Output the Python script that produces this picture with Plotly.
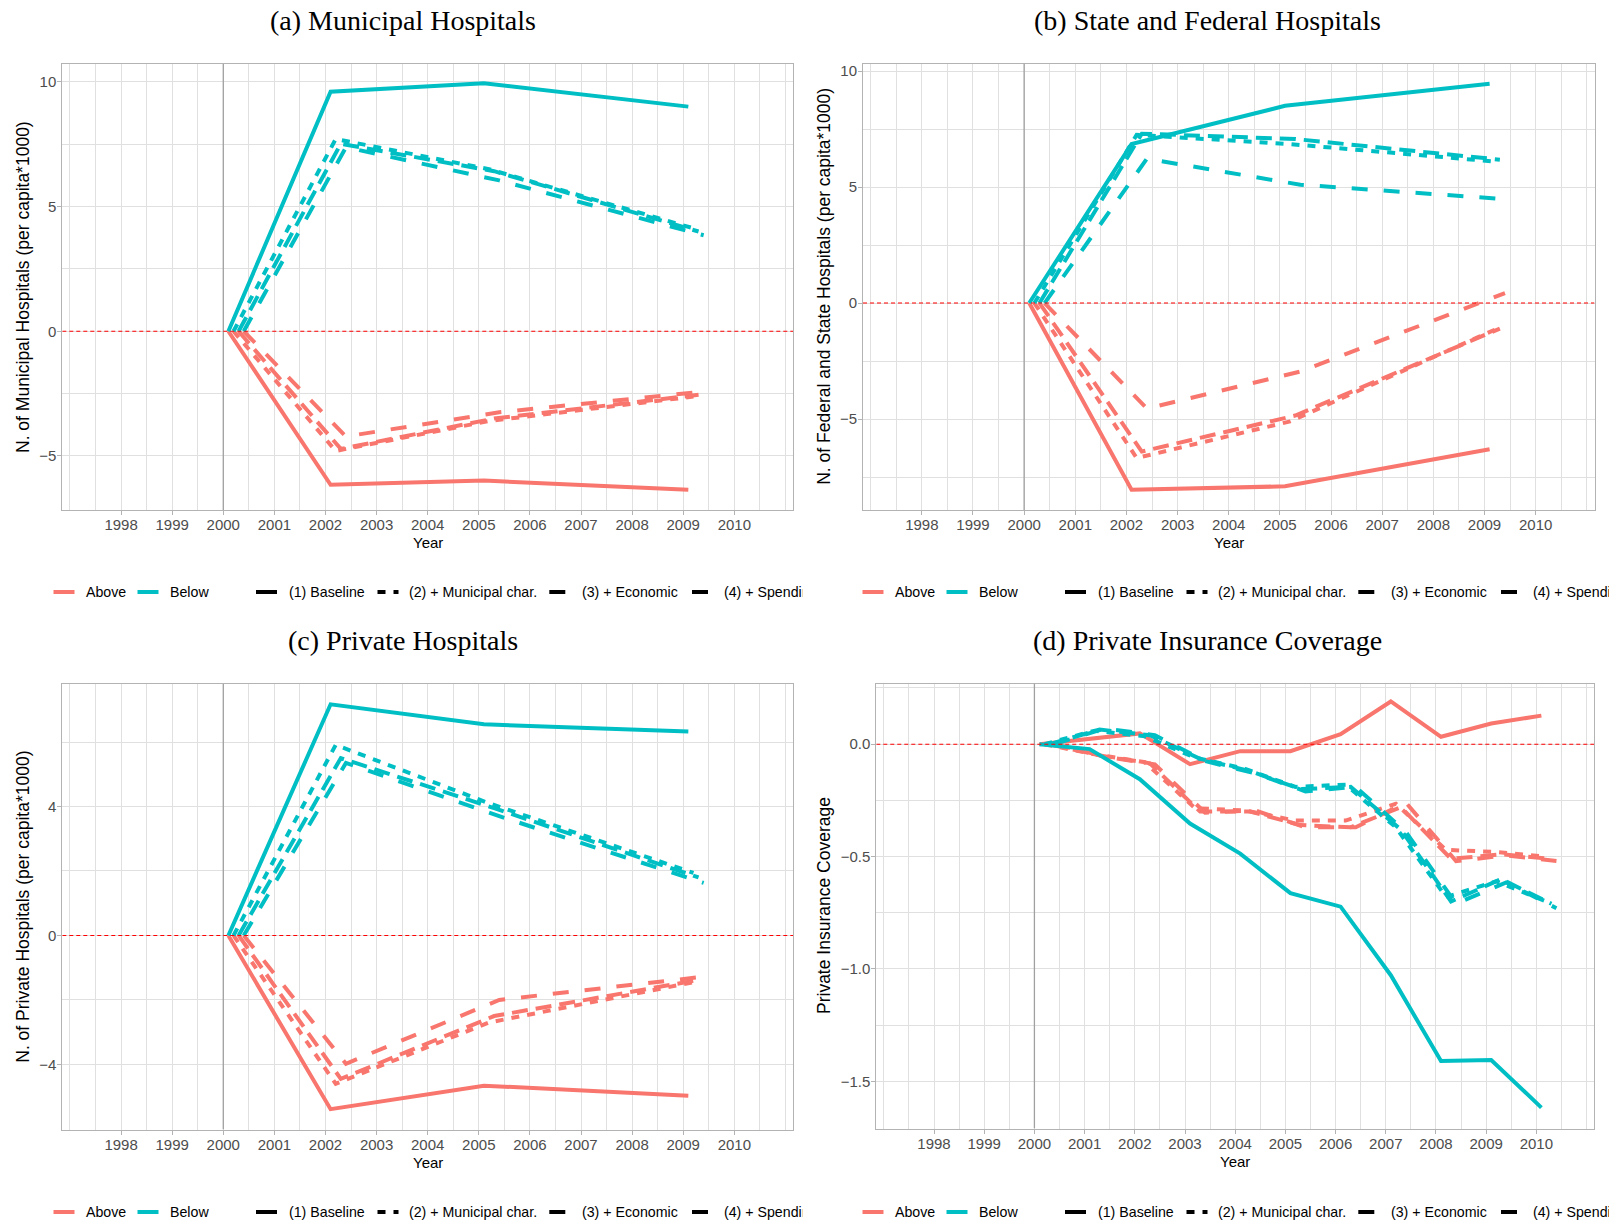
import plotly.graph_objects as go

# ---------------- data ----------------
YEARS_ABC = [2000, 2002, 2005, 2009]
YEARS_D = [2000, 2001, 2002, 2003, 2004, 2005, 2006, 2007, 2008, 2009, 2010]
X_TICKS = [1998, 1999, 2000, 2001, 2002, 2003, 2004, 2005, 2006, 2007, 2008, 2009, 2010]
GROUPS = ["Above", "Below"]
MODELS = ["(1) Baseline", "(2) + Municipal char.", "(3) + Economic", "(4) + Spending"]

TITLES = ["(a) Municipal Hospitals", "(b) State and Federal Hospitals",
          "(c) Private Hospitals", "(d) Private Insurance Coverage"]
Y_TITLES = ["N. of Municipal Hospitals (per capita*1000)",
            "N. of Federal and State Hospitals (per capita*1000)",
            "N. of Private Hospitals (per capita*1000)",
            "Private Insurance Coverage"]
Y_TICKS_A = [-5, 0, 5, 10]
Y_TICKS_B = [-5, 0, 5, 10]
Y_TICKS_C = [-4, 0, 4]
Y_TICKS_D = [-1.5, -1.0, -0.5, 0.0]

# (a) Municipal hospitals
mun_above_1 = [0, -6.16, -5.99, -6.36]
mun_above_2 = [0, -4.80, -3.60, -2.62]
mun_above_3 = [0, -4.72, -3.50, -2.55]
mun_above_4 = [0, -4.22, -3.25, -2.42]
mun_below_1 = [0, 9.61, 9.95, 9.01]
mun_below_2 = [0, 7.71, 6.50, 4.13]
mun_below_3 = [0, 7.52, 6.42, 4.00]
mun_below_4 = [0, 7.38, 6.05, 3.85]

# (b) State and federal hospitals
sf_above_1 = [0, -8.05, -7.90, -6.30]
sf_above_2 = [0, -6.68, -5.10, -1.15]
sf_above_3 = [0, -6.40, -4.85, -1.10]
sf_above_4 = [0, -4.55, -2.95, 0.43]
sf_below_1 = [0, 6.85, 8.50, 9.45]
sf_below_2 = [0, 7.25, 6.85, 6.10]
sf_below_3 = [0, 7.30, 7.07, 6.18]
sf_below_4 = [0, 6.22, 5.10, 4.48]

# (c) Private hospitals
pr_above_1 = [0, -5.39, -4.66, -4.97]
pr_above_2 = [0, -4.60, -2.70, -1.45]
pr_above_3 = [0, -4.45, -2.50, -1.38]
pr_above_4 = [0, -3.98, -2.00, -1.28]
pr_below_1 = [0, 7.17, 6.55, 6.33]
pr_below_2 = [0, 5.91, 4.10, 1.94]
pr_below_3 = [0, 5.50, 3.95, 1.80]
pr_below_4 = [0, 5.35, 3.70, 1.63]

# (d) Private insurance coverage
ins_above_1 = [0, 0.024, 0.048, -0.089, -0.031, -0.031, 0.045, 0.190, 0.033, 0.092, 0.127]
ins_above_2 = [0, -0.045, -0.080, -0.285, -0.295, -0.340, -0.340, -0.265, -0.470, -0.480, -0.500]
ins_above_3 = [0, -0.050, -0.085, -0.300, -0.300, -0.360, -0.370, -0.280, -0.510, -0.490, -0.510]
ins_above_4 = [0, -0.055, -0.090, -0.305, -0.295, -0.370, -0.370, -0.260, -0.520, -0.495, -0.520]
ins_below_1 = [0, -0.022, -0.156, -0.353, -0.487, -0.663, -0.723, -1.028, -1.410, -1.405, -1.617]
ins_below_2 = [0, 0.060, 0.035, -0.060, -0.110, -0.190, -0.180, -0.370, -0.680, -0.610, -0.700]
ins_below_3 = [0, 0.065, 0.040, -0.065, -0.120, -0.200, -0.190, -0.380, -0.700, -0.600, -0.710]
ins_below_4 = [0, 0.070, 0.040, -0.075, -0.130, -0.210, -0.190, -0.390, -0.710, -0.615, -0.730]

# ---------------- style ----------------
W, H = 1609, 1222
COLORS = {"Above": "#F8766D", "Below": "#00BFC4"}
DASHES = ["solid", "8px,8px", "16px,8px", "16px,16px"]
DODGE = [0.1, 0.2, 0.3, 0.4]
LW = 4
SANS = "Liberation Sans, Arial, Helvetica, sans-serif"
SERIF = "Liberation Serif, Times New Roman, serif"
GRID = "#E0E0E0"
BORDER = "#B3B3B3"

panels = [
    dict(years=YEARS_ABC,
         series={"Above": [mun_above_1, mun_above_2, mun_above_3, mun_above_4],
                 "Below": [mun_below_1, mun_below_2, mun_below_3, mun_below_4]},
         yticks=Y_TICKS_A, yminor=2.5, yrange=[-7.17, 10.72], yfmt="",
         xdom=[62.3, 793.1], ydom=[64.0, 510.0], ytitle_x=23, xrange=[1996.85, 2011.15]),
    dict(years=YEARS_ABC,
         series={"Above": [sf_above_1, sf_above_2, sf_above_3, sf_above_4],
                 "Below": [sf_below_1, sf_below_2, sf_below_3, sf_below_4]},
         yticks=Y_TICKS_B, yminor=2.5, yrange=[-8.92, 10.32], yfmt="",
         xdom=[863.0, 1594.5], ydom=[63.6, 510.0], ytitle_x=824, xrange=[1996.85, 2011.15]),
    dict(years=YEARS_ABC,
         series={"Above": [pr_above_1, pr_above_2, pr_above_3, pr_above_4],
                 "Below": [pr_below_1, pr_below_2, pr_below_3, pr_below_4]},
         yticks=Y_TICKS_C, yminor=2, yrange=[-6.02, 7.8], yfmt="",
         xdom=[62.3, 793.1], ydom=[684.0, 1129.5], ytitle_x=23, xrange=[1996.85, 2011.15]),
    dict(years=YEARS_D,
         series={"Above": [ins_above_1, ins_above_2, ins_above_3, ins_above_4],
                 "Below": [ins_below_1, ins_below_2, ins_below_3, ins_below_4]},
         yticks=Y_TICKS_D, yminor=0.25, yrange=[-1.71, 0.27], yfmt=".1f",
         xdom=[876.3, 1594.1], ydom=[683.5, 1128.5], ytitle_x=824, xrange=[1996.85, 2011.15]),
]


def fx(px):
    return px / W


def fy(py):
    return 1 - py / H


fig = go.Figure()
shapes = []
annotations = []

for i, p in enumerate(panels):
    sfx = "" if i == 0 else str(i + 1)
    xa, ya = "x" + sfx, "y" + sfx
    for g in GROUPS:
        for m in range(4):
            vals = p["series"][g][m]
            fig.add_trace(go.Scatter(
                x=[yr + DODGE[m] for yr in p["years"]], y=vals, mode="lines",
                line=dict(color=COLORS[g], width=LW, dash=DASHES[m]),
                name=f"{g} {MODELS[m]}", showlegend=False, hoverinfo="x+y+name",
                xaxis=xa, yaxis=ya))

    axis_common = dict(showline=True, mirror=True, linecolor=BORDER, linewidth=1,
                       ticks="outside", ticklen=4, tickwidth=1, tickcolor=BORDER,
                       tickfont=dict(family=SANS, size=15, color="#4D4D4D"),
                       showgrid=True, gridcolor=GRID, gridwidth=1, zeroline=False)
    fig.layout["xaxis" + sfx] = dict(
        axis_common, domain=[fx(p["xdom"][0]), fx(p["xdom"][1])], range=p["xrange"],
        anchor=ya, tickmode="array", tickvals=X_TICKS, ticktext=[str(t) for t in X_TICKS],
        ticklabelstandoff=-3,
        minor=dict(tickmode="linear", tick0=1997, dtick=0.5, showgrid=True,
                   gridcolor=GRID, gridwidth=0.6, ticks=""))
    fig.layout["yaxis" + sfx] = dict(
        axis_common, domain=[fy(p["ydom"][1]), fy(p["ydom"][0])], range=p["yrange"],
        anchor=xa, tickmode="array", tickvals=p["yticks"],
        ticklabelstandoff=-2,
        ticktext=[(format(t, p["yfmt"]) if p["yfmt"] else str(t)).replace("-", "\u2212") for t in p["yticks"]],
        minor=dict(tickmode="linear", tick0=0, dtick=p["yminor"], showgrid=True,
                   gridcolor=GRID, gridwidth=0.6, ticks=""))

    # reference lines
    x_lo, x_hi = p["xrange"]
    y_lo, y_hi = p["yrange"]
    shapes.append(dict(type="line", xref=xa, yref=ya, x0=2000, x1=2000, y0=y_lo, y1=y_hi,
                       line=dict(color="#A0A0A0", width=1.3), layer="above"))
    shapes.append(dict(type="line", xref=xa, yref=ya, x0=x_lo, x1=x_hi, y0=0, y1=0,
                       line=dict(color="#FF0000", width=1.1, dash="4px,3px"), layer="above"))

    # titles
    col_center = 403 if i % 2 == 0 else 1207
    title_y = 20 if i < 2 else 640
    annotations.append(dict(text=TITLES[i], x=fx(col_center), y=fy(title_y), xref="paper", yref="paper",
                            xanchor="center", yanchor="middle", showarrow=False,
                            font=dict(family=SERIF, size=28, color="#000000")))
    # y title
    ymid = (p["ydom"][0] + p["ydom"][1]) / 2
    annotations.append(dict(text=Y_TITLES[i], x=fx(p["ytitle_x"]), y=fy(ymid), xref="paper", yref="paper",
                            xanchor="center", yanchor="middle", textangle=-90, showarrow=False,
                            font=dict(family=SANS, size=17.5, color="#000000")))
    # x title
    xmid = (p["xdom"][0] + p["xdom"][1]) / 2
    annotations.append(dict(text="Year", x=fx(xmid), y=fy(p["ydom"][1] + 32.5), xref="paper", yref="paper",
                            xanchor="center", yanchor="middle", showarrow=False,
                            font=dict(family=SANS, size=15, color="#000000")))

    # legend (drawn manually, ggplot-style)
    off = 0 if i % 2 == 0 else 809
    ly = 592 if i < 2 else 1212
    clip_right = 801 if i % 2 == 0 else 1609
    keys = [("Above", 53.5, 84.5, COLORS["Above"], "solid"),
            ("Below", 137.5, 169, COLORS["Below"], "solid")]
    for m, (kx, tx) in enumerate([(256, 287.5), (377.5, 407.5), (549.3, 581), (692, 722.5)]):
        keys.append((MODELS[m], kx, tx, "#000000", DASHES[m]))
    for label, kx, tx, colr, dash in keys:
        shapes.append(dict(type="line", xref="paper", yref="paper",
                           x0=fx(kx + off), x1=fx(kx + off + 21), y0=fy(ly), y1=fy(ly),
                           line=dict(color=colr, width=4, dash=dash), layer="above"))
        ann = dict(text=label, x=fx(tx + off), y=fy(ly), xref="paper", yref="paper",
                   xanchor="left", yanchor="middle", showarrow=False, borderpad=0, align="left",
                   font=dict(family=SANS, size=14.2, color="#000000"))
        if label == MODELS[3]:
            ann["width"] = clip_right - (tx + off)
        annotations.append(ann)

fig.update_layout(width=W, height=H, autosize=False,
                  margin=dict(l=0, r=0, t=0, b=0, pad=0),
                  paper_bgcolor="white", plot_bgcolor="white",
                  shapes=shapes, annotations=annotations, showlegend=False)

fig.write_html("out.html", config={"displayModeBar": False},
               post_script="document.body.style.margin='0px';document.body.style.overflow='hidden';")
